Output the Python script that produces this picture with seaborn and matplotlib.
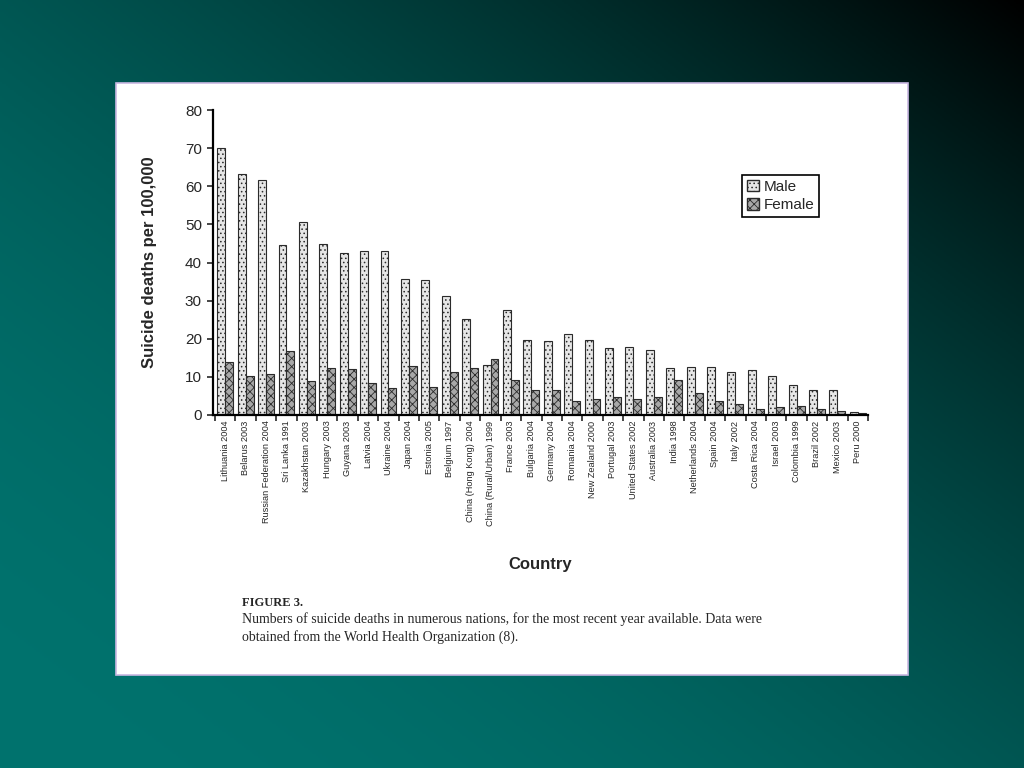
# plot.py - suicide deaths per 100,000 by country and sex (WHO figure on a slide)

import numpy as np
import pandas as pd
import seaborn as sns
import matplotlib.pyplot as plt
from matplotlib.patches import Rectangle, Patch


countries = [
    "Lithuania 2004", "Belarus 2003", "Russian Federation 2004", "Sri Lanka 1991",
    "Kazakhstan 2003", "Hungary 2003", "Guyana 2003", "Latvia 2004", "Ukraine 2004",
    "Japan 2004", "Estonia 2005", "Belgium 1997", "China (Hong Kong) 2004",
    "China (Rural/Urban) 1999", "France 2003", "Bulgaria 2004", "Germany 2004",
    "Romania 2004", "New Zealand 2000", "Portugal 2003", "United States 2002",
    "Australia 2003", "India 1998", "Netherlands 2004", "Spain 2004", "Italy 2002",
    "Costa Rica 2004", "Israel 2003", "Colombia 1999", "Brazil 2002", "Mexico 2003",
    "Peru 2000",
]
male = [70.0, 63.3, 61.6, 44.6, 50.7, 44.8, 42.5, 42.9, 43.0, 35.6, 35.5, 31.2,
        25.2, 13.0, 27.5, 19.6, 19.5, 21.3, 19.7, 17.5, 17.9, 17.0, 12.2, 12.7,
        12.6, 11.4, 11.8, 10.2, 7.9, 6.5, 6.5, 0.8]
female = [14.0, 10.3, 10.7, 16.8, 8.9, 12.2, 12.1, 8.4, 7.2, 12.8, 7.3, 11.3,
          12.2, 14.8, 9.1, 6.6, 6.5, 3.7, 4.1, 4.8, 4.1, 4.6, 9.1, 5.8,
          3.8, 3.0, 1.6, 2.0, 2.3, 1.6, 1.1, 0.4]
y_ticks = [0, 10, 20, 30, 40, 50, 60, 70, 80]

n = len(countries)
df = pd.DataFrame({
    "Country": countries * 2,
    "value": male + female,
    "Sex": ["Male"] * n + ["Female"] * n,
})

sns.set_style("white")
plt.rcParams["font.family"] = ["Liberation Sans", "DejaVu Sans"]
plt.rcParams["hatch.linewidth"] = 0.6

fig = plt.figure(figsize=(10.24, 7.68), dpi=100)

# fondo degradado verde azulado -> negro (esquina superior derecha)
bg = fig.add_axes([0, 0, 1, 1], zorder=0)
h, w = 384, 512
xx, yy = np.meshgrid(np.linspace(0, 1, w), np.linspace(1, 0, h))
s = 0.5 * (xx + yy)
k = np.clip(1 - s ** 2, 0, 1)
teal = np.array([0, 115, 110]) / 255.0
img = k[..., None] * teal[None, None, :]
bg.imshow(img, extent=[0, 1, 0, 1], aspect="auto", origin="upper")
bg.add_patch(Rectangle((116 / 1024, 1 - 675 / 768), (908 - 116) / 1024, (675 - 83) / 768,
                       facecolor="white", edgecolor="#c9b8e2", linewidth=1.2))
bg.set_xlim(0, 1)
bg.set_ylim(0, 1)
bg.axis("off")

ax = fig.add_axes([213 / 1024, 1 - 415 / 768, (868 - 213) / 1024, (415 - 110) / 768], zorder=1)
ax.patch.set_alpha(0)

sns.barplot(data=df, x="Country", y="value", hue="Sex",
            palette={"Male": "#e6e6e6", "Female": "#a8a8a8"},
            width=0.78, edgecolor="#2b2b2b", linewidth=0.8, legend=False, ax=ax)

hatches = ["....", "xxxx"]
for cont, hatch in zip(ax.containers, hatches):
    for bar in cont:
        bar.set_hatch(hatch)

ax.set_xlim(-0.6, n - 0.5)
ax.set_ylim(0, 80)
ax.set_yticks(y_ticks)
ax.tick_params(axis="y", labelsize=11, length=4, width=1.2, direction="out", left=True, pad=4)
ax.set_xticks(range(n))
ax.set_xticklabels(countries, rotation=90, fontsize=6.6)
ax.set_xticks(np.arange(-0.5, n, 1), minor=True)
ax.tick_params(axis="x", which="major", length=0, pad=4)
ax.tick_params(axis="x", which="minor", length=4, width=1.2, direction="out", bottom=True)

for side in ["top", "right"]:
    ax.spines[side].set_visible(False)
for side in ["left", "bottom"]:
    ax.spines[side].set_color("black")
    ax.spines[side].set_linewidth(1.6)

ax.set_xlabel("")
ax.set_ylabel("Suicide deaths per 100,000", fontsize=12, fontweight="bold")
ax.yaxis.set_label_coords(-0.0855, 0.5)

handles = [Patch(facecolor="#e6e6e6", edgecolor="#2b2b2b", hatch="....", label="Male"),
           Patch(facecolor="#a8a8a8", edgecolor="#2b2b2b", hatch="xxxx", label="Female")]
leg = ax.legend(handles=handles, loc="upper left", bbox_to_anchor=(0.808, 0.787),
                fontsize=11, frameon=True, fancybox=False, framealpha=1,
                edgecolor="black", handlelength=0.8, handleheight=0.8,
                handletextpad=0.3, borderpad=0.3, labelspacing=0.3, borderaxespad=0)
leg.get_frame().set_linewidth(1.2)

fig.text(540 / 1024, 1 - 565 / 768, "Country", fontsize=12, fontweight="bold",
         ha="center", va="center")

serif = ["Liberation Serif", "DejaVu Serif"]
fig.text(242 / 1024, 1 - 603 / 768, "FIGURE 3.", family=serif, fontsize=9,
         fontweight="bold", ha="left", va="center")
fig.text(242 / 1024, 1 - 619 / 768,
         "Numbers of suicide deaths in numerous nations, for the most recent year available. Data were",
         family=serif, fontsize=10, ha="left", va="center")
fig.text(242 / 1024, 1 - 637 / 768, "obtained from the World Health Organization (8).",
         family=serif, fontsize=10, ha="left", va="center")

fig.savefig("out.png", dpi=100)
plt.close(fig)
